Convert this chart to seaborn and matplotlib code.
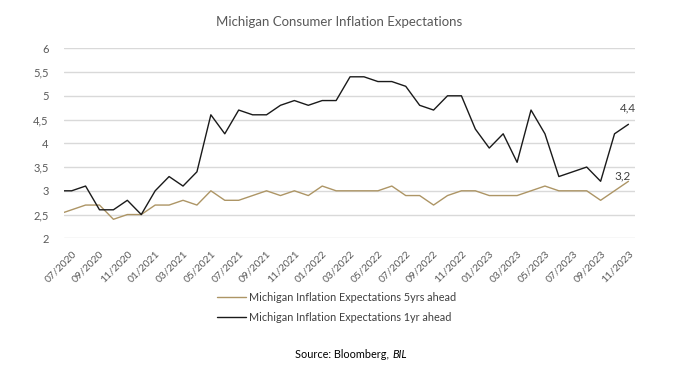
"""Michigan consumer inflation expectations, 1yr vs 5yrs ahead."""
import matplotlib
matplotlib.use("Agg")
import matplotlib.pyplot as plt
import pandas as pd
import seaborn as sns

GOLD = "#AD9565"
BLACK = "#1A1A1A"
GREY = "#595959"

# monthly observations, 06/2020 .. 11/2023 (06/2020 is clipped by the axis)
MONTHS = [d.strftime("%m/%Y") for d in pd.date_range("2020-06-01", "2023-11-01", freq="MS")]
ONE_YEAR = [3.0,
            3.0, 3.1, 2.6, 2.6, 2.8, 2.5, 3.0, 3.3, 3.1, 3.4,
            4.6, 4.2, 4.7, 4.6, 4.6, 4.8, 4.9, 4.8, 4.9, 4.9,
            5.4, 5.4, 5.3, 5.3, 5.2, 4.8, 4.7, 5.0, 5.0, 4.3,
            3.9, 4.2, 3.6, 4.7, 4.2, 3.3, 3.4, 3.5, 3.2, 4.2, 4.4]
FIVE_YEAR = [2.5,
             2.6, 2.7, 2.7, 2.4, 2.5, 2.5, 2.7, 2.7, 2.8, 2.7,
             3.0, 2.8, 2.8, 2.9, 3.0, 2.9, 3.0, 2.9, 3.1, 3.0,
             3.0, 3.0, 3.0, 3.1, 2.9, 2.9, 2.7, 2.9, 3.0, 3.0,
             2.9, 2.9, 2.9, 3.0, 3.1, 3.0, 3.0, 3.0, 2.8, 3.0, 3.2]
SERIES = ["Michigan Inflation Expectations 5yrs ahead",
          "Michigan Inflation Expectations 1yr ahead"]
Y_TICKS = [2, 2.5, 3, 3.5, 4, 4.5, 5, 5.5, 6]

sns.set_style("white")
plt.rcParams["font.family"] = ["Lato", "DejaVu Sans"]

pos = list(range(-1, len(MONTHS) - 1))
df = pd.concat([
    pd.DataFrame({"pos": pos, "value": FIVE_YEAR, "series": SERIES[0]}),
    pd.DataFrame({"pos": pos, "value": ONE_YEAR, "series": SERIES[1]}),
])

fig = plt.figure(figsize=(6.73, 3.75), dpi=100)
ax = fig.add_axes([64 / 673, 1 - 238.3 / 375, (635 - 64) / 673, 190 / 375])
sns.lineplot(data=df, x="pos", y="value", hue="series", hue_order=SERIES,
             palette={SERIES[0]: GOLD, SERIES[1]: BLACK}, linewidth=1.0, ax=ax, legend=False)

ax.set_xlim(-0.55, 40.47)
ax.set_ylim(2, 6)
ax.set_yticks(Y_TICKS)
ax.set_yticklabels([f"{t:g}".replace(".", ",") for t in Y_TICKS], fontsize=8, color=GREY)
ax.tick_params(axis="y", length=0, pad=11)
ticks = list(range(0, len(MONTHS) - 1, 2))
ax.set_xticks(ticks)
ax.set_xticklabels([MONTHS[t + 1] for t in ticks], rotation=45, ha="right", va="top",
                   rotation_mode="anchor", fontsize=7.5, color=GREY)
ax.tick_params(axis="x", length=0, pad=8)
ax.grid(axis="y", color="#D9D9D9", linewidth=1)
ax.set_axisbelow(True)
for spine in ax.spines.values():
    spine.set_visible(False)
ax.set_xlabel("")
ax.set_ylabel("")

last = len(MONTHS) - 2
ax.annotate(f"{ONE_YEAR[-1]:g}".replace(".", ","), (last, ONE_YEAR[-1]), xytext=(0, 12),
            textcoords="offset points", ha="center", va="center", fontsize=8.5, color="#404040")
ax.annotate(f"{FIVE_YEAR[-1]:g}".replace(".", ","), (last, FIVE_YEAR[-1]), xytext=(-4, 4),
            textcoords="offset points", ha="center", va="center", fontsize=8.5, color="#404040")

handles = [plt.Line2D([], [], color=GOLD, lw=1), plt.Line2D([], [], color=BLACK, lw=1)]
fig.legend(handles, SERIES, loc="center", bbox_to_anchor=(336.5 / 673, 1 - 307.5 / 375),
           frameon=False, fontsize=7.8, handlelength=2.7, handletextpad=0.2,
           labelspacing=0.8, borderpad=0, labelcolor="#404040")

fig.text(339 / 673, 1 - 22 / 375, "Michigan Consumer Inflation Expectations",
         ha="center", va="center", fontsize=9.5, color=GREY)
src = fig.text(295 / 673, 1 - 355 / 375, "Source: Bloomberg,", ha="left", va="center",
               fontsize=7.8, color="black")
fig.canvas.draw()
x_end = src.get_window_extent().x1 + 3
fig.text(x_end / 673, 1 - 355 / 375, "BIL", ha="left", va="center", fontsize=7.8,
         color="black", style="italic")

fig.savefig("out.png", dpi=100)
